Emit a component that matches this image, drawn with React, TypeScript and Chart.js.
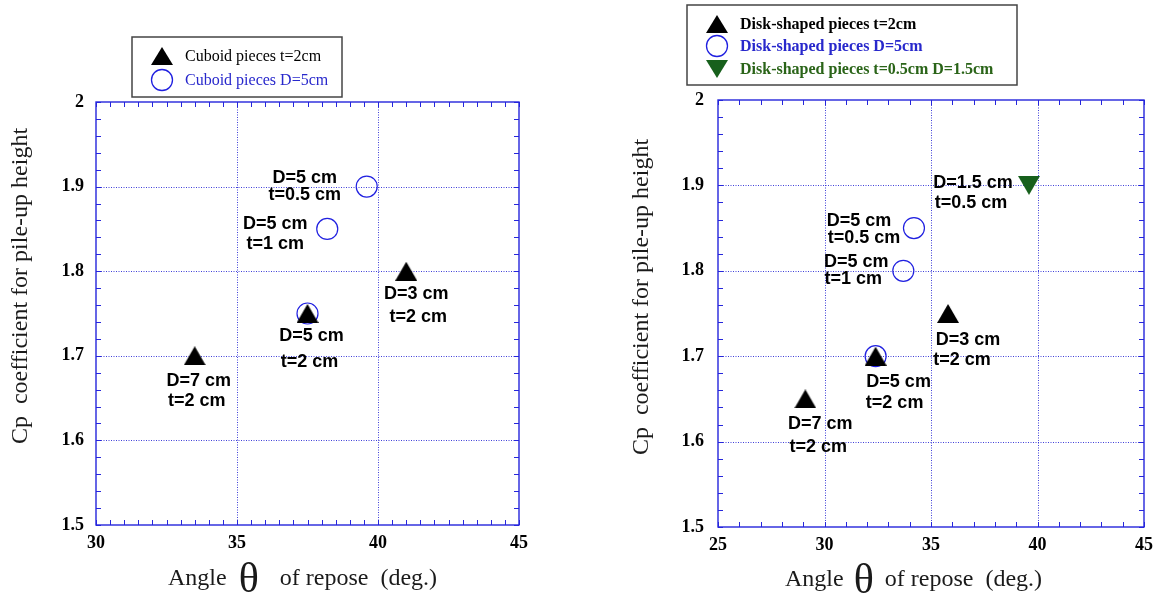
import React, { useEffect, useRef } from 'react';
import { Chart, registerables } from 'chart.js';

Chart.register(...registerables);

// ---------------- DATA ----------------
// Left panel: cuboid pieces
const cuboidSeriesNames = ['Cuboid pieces t=2cm', 'Cuboid pieces D=5cm'];
const cuboidT2X = [33.5, 37.5, 41.0];
const cuboidT2Y = [1.70, 1.75, 1.80];
const cuboidT2Labels = [['D=7 cm', 't=2 cm'], ['D=5 cm', 't=2 cm'], ['D=3 cm', 't=2 cm']];
const cuboidD5X = [37.5, 38.2, 39.6];
const cuboidD5Y = [1.75, 1.85, 1.90];
const cuboidD5Labels = [[], ['D=5 cm', 't=1 cm'], ['D=5 cm', 't=0.5 cm']];

// Right panel: disk-shaped pieces
const diskSeriesNames = ['Disk-shaped pieces t=2cm', 'Disk-shaped pieces D=5cm', 'Disk-shaped pieces t=0.5cm D=1.5cm'];
const diskT2X = [29.1, 32.4, 35.8];
const diskT2Y = [1.65, 1.70, 1.75];
const diskT2Labels = [['D=7 cm', 't=2 cm'], ['D=5 cm', 't=2 cm'], ['D=3 cm', 't=2 cm']];
const diskD5X = [32.4, 33.7, 34.2];
const diskD5Y = [1.70, 1.80, 1.85];
const diskD5Labels = [[], ['D=5 cm', 't=1 cm'], ['D=5 cm', 't=0.5 cm']];
const diskSmallX = [39.6];
const diskSmallY = [1.90];
const diskSmallLabels = [['D=1.5 cm', 't=0.5 cm']];

// Axes
const leftXRange = [30, 45];
const rightXRange = [25, 45];
const yRange = [1.5, 2.0];
const xMajorStep = 5;
const yMajorStep = 0.1;
const yTitleText = 'Cp  coefficient for pile-up height';
const xTitleParts = ['Angle', 'θ', 'of repose  (deg.)'];

// ---------------- STYLE ----------------
const SERIF = "'Liberation Serif', 'Times New Roman', serif";
const SANS = "'Liberation Sans', Arial, sans-serif";
const BLUE = '#2020e0';
const BLUE_TEXT = '#2828cc';
const GREEN = '#17601c';
const GREEN_TEXT = '#2a6418';
const GRID = 'rgba(30,30,210,0.85)';
const FRAME = '#2626dc';

const toPts = (xs: number[], ys: number[]) => xs.map((x, i) => ({ x, y: ys[i] }));

type LegendItem = { marker: 'tri' | 'tridown' | 'circle'; color: string; text: string; textColor: string; y: number };

type DecoCfg = {
  xMinor: number;
  yMinor: number;
  labels: string[][][];
  offsets: number[][][][];
  yTitle: { x: number; y: number };
  xTitle: { x: number; y: number; gap1: number; gap2: number };
  legend: { box: [number, number, number, number]; markerX: number; textX: number; font: string; items: LegendItem[] };
};

function trianglePath(ctx: CanvasRenderingContext2D, kind: string, x: number, y: number, w: number, h: number) {
  ctx.beginPath();
  if (kind === 'tri') {
    ctx.moveTo(x, y - h / 2);
    ctx.lineTo(x + w / 2, y + h / 2);
    ctx.lineTo(x - w / 2, y + h / 2);
  } else {
    ctx.moveTo(x, y + h / 2);
    ctx.lineTo(x + w / 2, y - h / 2);
    ctx.lineTo(x - w / 2, y - h / 2);
  }
  ctx.closePath();
}

function makeTriangleImage(kind: string, color: string) {
  const c = document.createElement('canvas');
  c.width = 22;
  c.height = 19;
  const g = c.getContext('2d') as CanvasRenderingContext2D;
  g.fillStyle = color;
  trianglePath(g, kind, 11, 9.5, 22, 19);
  g.fill();
  return c;
}

function drawMarker(ctx: CanvasRenderingContext2D, kind: string, x: number, y: number, color: string) {
  ctx.save();
  if (kind === 'circle') {
    ctx.strokeStyle = color;
    ctx.lineWidth = 1.3;
    ctx.beginPath();
    ctx.arc(x, y, 10.5, 0, Math.PI * 2);
    ctx.stroke();
  } else {
    ctx.fillStyle = color;
    trianglePath(ctx, kind, x, y, 22, 18);
    ctx.fill();
  }
  ctx.restore();
}

function makeDeco(cfg: DecoCfg) {
  return {
    id: 'deco',
    beforeDatasetsDraw(chart: any) {
      const { ctx, chartArea: ca, scales } = chart;
      const x = scales.x, y = scales.y;
      ctx.save();
      // dotted grid
      ctx.strokeStyle = GRID;
      ctx.lineWidth = 1;
      ctx.setLineDash([1, 1.5]);
      x.ticks.forEach((t: any) => {
        const px = Math.round(x.getPixelForValue(t.value)) + 0.5;
        if (px > ca.left + 2 && px < ca.right - 2) {
          ctx.beginPath();
          ctx.moveTo(px, ca.top);
          ctx.lineTo(px, ca.bottom);
          ctx.stroke();
        }
      });
      y.ticks.forEach((t: any) => {
        const py = Math.round(y.getPixelForValue(t.value)) + 0.5;
        if (py > ca.top + 2 && py < ca.bottom - 2) {
          ctx.beginPath();
          ctx.moveTo(ca.left, py);
          ctx.lineTo(ca.right, py);
          ctx.stroke();
        }
      });
      ctx.setLineDash([]);
      // minor ticks on all sides (inward)
      ctx.strokeStyle = FRAME;
      ctx.lineWidth = 1;
      const L = 5;
      const nx = Math.round((x.max - x.min) / cfg.xMinor);
      for (let i = 0; i <= nx; i++) {
        const px = Math.round(x.getPixelForValue(x.min + i * cfg.xMinor)) + 0.5;
        ctx.beginPath();
        ctx.moveTo(px, ca.bottom);
        ctx.lineTo(px, ca.bottom - L);
        ctx.moveTo(px, ca.top);
        ctx.lineTo(px, ca.top + L);
        ctx.stroke();
      }
      const ny = Math.round((y.max - y.min) / cfg.yMinor);
      for (let i = 0; i <= ny; i++) {
        const py = Math.round(y.getPixelForValue(y.min + i * cfg.yMinor)) + 0.5;
        ctx.beginPath();
        ctx.moveTo(ca.left, py);
        ctx.lineTo(ca.left + L, py);
        ctx.moveTo(ca.right, py);
        ctx.lineTo(ca.right - L, py);
        ctx.stroke();
      }
      // frame
      ctx.lineWidth = 1.4;
      ctx.strokeRect(ca.left, ca.top, ca.right - ca.left, ca.bottom - ca.top);
      ctx.restore();
    },
    afterDraw(chart: any) {
      const { ctx } = chart;
      ctx.save();
      // point annotations
      ctx.font = `bold 18px ${SANS}`;
      ctx.fillStyle = '#000';
      ctx.textAlign = 'center';
      ctx.textBaseline = 'middle';
      cfg.labels.forEach((dsLabels, di) => {
        const meta = chart.getDatasetMeta(di);
        dsLabels.forEach((lines, pi) => {
          const el = meta.data[pi];
          if (!el) return;
          lines.forEach((line, li) => {
            const off = cfg.offsets[di][pi][li];
            ctx.fillText(line, el.x + off[0], el.y + off[1]);
          });
        });
      });
      // y title
      ctx.save();
      ctx.translate(cfg.yTitle.x, cfg.yTitle.y);
      ctx.rotate(-Math.PI / 2);
      ctx.font = `24px ${SERIF}`;
      ctx.fillStyle = '#1a1a1a';
      ctx.textAlign = 'center';
      ctx.textBaseline = 'middle';
      ctx.fillText(yTitleText, 0, 0);
      ctx.restore();
      // x title
      ctx.fillStyle = '#1a1a1a';
      ctx.textAlign = 'left';
      ctx.textBaseline = 'alphabetic';
      let cx = cfg.xTitle.x;
      const by = cfg.xTitle.y;
      ctx.font = `24px ${SERIF}`;
      ctx.fillText(xTitleParts[0], cx, by);
      cx += ctx.measureText(xTitleParts[0]).width + cfg.xTitle.gap1;
      ctx.font = `42px ${SERIF}`;
      ctx.fillText(xTitleParts[1], cx, by + 7);
      cx += ctx.measureText(xTitleParts[1]).width + cfg.xTitle.gap2;
      ctx.font = `24px ${SERIF}`;
      ctx.fillText(xTitleParts[2], cx, by);
      // legend
      const lg = cfg.legend;
      ctx.fillStyle = '#fff';
      ctx.fillRect(lg.box[0], lg.box[1], lg.box[2], lg.box[3]);
      ctx.strokeStyle = '#444';
      ctx.lineWidth = 1.5;
      ctx.strokeRect(lg.box[0], lg.box[1], lg.box[2], lg.box[3]);
      lg.items.forEach((it) => {
        drawMarker(ctx, it.marker, lg.markerX, it.y, it.color);
        ctx.font = lg.font;
        ctx.fillStyle = it.textColor;
        ctx.textAlign = 'left';
        ctx.textBaseline = 'middle';
        ctx.fillText(it.text, lg.textX, it.y + 1);
      });
      ctx.restore();
    },
  };
}

function baseOptions(xr: number[], padTop: number, padRight: number, yWidth: number, xHeight: number, yPad: number) {
  const tickFont = { family: SERIF, size: 18, weight: 'bold' as const };
  return {
    responsive: false,
    animation: false as const,
    events: [] as any[],
    layout: { padding: { top: padTop, right: padRight, left: 0, bottom: 0 } },
    plugins: { legend: { display: false }, tooltip: { enabled: false } },
    scales: {
      x: {
        type: 'linear' as const,
        min: xr[0],
        max: xr[1],
        grid: { display: false },
        border: { display: false },
        ticks: {
          stepSize: xMajorStep,
          color: '#000',
          font: tickFont,
          padding: 0,
          maxRotation: 0,
          autoSkip: false,
          callback: (v: any) => String(Math.round(Number(v))),
        },
        afterFit: (s: any) => { s.height = xHeight; },
      },
      y: {
        type: 'linear' as const,
        min: yRange[0],
        max: yRange[1],
        grid: { display: false },
        border: { display: false },
        ticks: {
          stepSize: yMajorStep,
          color: '#000',
          font: tickFont,
          padding: yPad,
          autoSkip: false,
          callback: (v: any) => String(Number(Number(v).toFixed(1))),
        },
        afterFit: (s: any) => { s.width = yWidth; },
      },
    },
  };
}

function triDataset(label: string, xs: number[], ys: number[], color: string, kind = 'tri') {
  return {
    label,
    data: toPts(xs, ys),
    pointStyle: makeTriangleImage(kind, color),
    pointRadius: 11,
    backgroundColor: color,
    borderColor: color,
    borderWidth: 0,
    showLine: false,
  };
}

function circleDataset(label: string, xs: number[], ys: number[]) {
  return {
    label,
    data: toPts(xs, ys),
    pointStyle: 'circle',
    pointRadius: 10.5,
    backgroundColor: 'rgba(0,0,0,0)',
    borderColor: BLUE,
    borderWidth: 1.2,
    showLine: false,
  };
}

function buildLeft() {
  const deco = makeDeco({
    xMinor: 0.5,
    yMinor: 0.02,
    labels: [cuboidT2Labels, cuboidD5Labels],
    offsets: [
      [[[4, 25], [2, 45]], [[4, 23], [2, 49]], [[10, 23], [12, 46]]],
      [[], [[-52, -5], [-52, 15]], [[-62, -9], [-62, 8]]],
    ],
    yTitle: { x: 21, y: 286 },
    xTitle: { x: 168, y: 585, gap1: 12, gap2: 21 },
    legend: {
      box: [132, 37, 210, 60],
      markerX: 162,
      textX: 185,
      font: `16px ${SERIF}`,
      items: [
        { marker: 'tri', color: '#000', text: cuboidSeriesNames[0], textColor: '#000', y: 56 },
        { marker: 'circle', color: BLUE, text: cuboidSeriesNames[1], textColor: BLUE_TEXT, y: 80 },
      ],
    },
  });
  return {
    type: 'scatter' as const,
    data: {
      datasets: [
        triDataset(cuboidSeriesNames[0], cuboidT2X, cuboidT2Y, '#000'),
        circleDataset(cuboidSeriesNames[1], cuboidD5X, cuboidD5Y),
      ],
    },
    options: baseOptions(leftXRange, 102, 51, 96, 72, 4),
    plugins: [deco],
  };
}

function buildRight() {
  const deco = makeDeco({
    xMinor: 1,
    yMinor: 0.02,
    labels: [diskT2Labels, diskD5Labels, diskSmallLabels],
    offsets: [
      [[[15, 25], [13, 48]], [[23, 26], [19, 47]], [[20, 27], [14, 47]]],
      [[], [[-47, -9], [-50, 8]], [[-55, -7], [-50, 10]]],
      [[[-56, -2], [-58, 18]]],
    ],
    yTitle: { x: 72, y: 297 },
    xTitle: { x: 215, y: 586, gap1: 10, gap2: 11 },
    legend: {
      box: [117, 5, 330, 80],
      markerX: 147,
      textX: 170,
      font: `bold 16px ${SERIF}`,
      items: [
        { marker: 'tri', color: '#000', text: diskSeriesNames[0], textColor: '#000', y: 24 },
        { marker: 'circle', color: BLUE, text: diskSeriesNames[1], textColor: BLUE_TEXT, y: 46 },
        { marker: 'tridown', color: GREEN, text: diskSeriesNames[2], textColor: GREEN_TEXT, y: 69 },
      ],
    },
  });
  return {
    type: 'scatter' as const,
    data: {
      datasets: [
        triDataset(diskSeriesNames[0], diskT2X, diskT2Y, '#000'),
        circleDataset(diskSeriesNames[1], diskD5X, diskD5Y),
        triDataset(diskSeriesNames[2], diskSmallX, diskSmallY, GREEN, 'tridown'),
      ],
    },
    options: baseOptions(rightXRange, 100, 18, 148, 70, 6),
    plugins: [deco],
  };
}

function Panel({ build, left, width }: { build: () => any; left: number; width: number }) {
  const ref = useRef<HTMLCanvasElement>(null);
  useEffect(() => {
    const chart = new Chart(ref.current as HTMLCanvasElement, build());
    return () => chart.destroy();
  }, []);
  return (
    <canvas
      ref={ref}
      width={width}
      height={597}
      style={{ position: 'absolute', left, top: 0, width, height: 597 }}
    />
  );
}

export default function App() {
  return (
    <div style={{ position: 'absolute', left: 0, top: 0, width: 1162, height: 597, background: '#fff' }}>
      <Panel build={buildLeft} left={0} width={570} />
      <Panel build={buildRight} left={570} width={592} />
    </div>
  );
}
